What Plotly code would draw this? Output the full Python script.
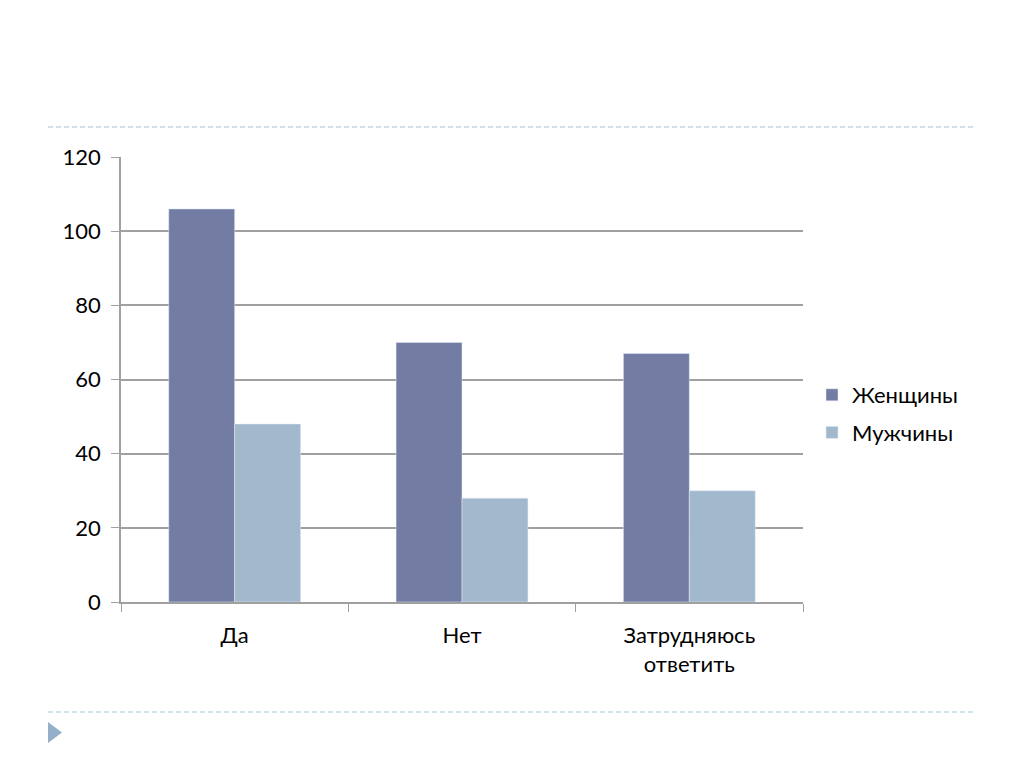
import plotly.graph_objects as go

categories = ["Да", "Нет", "Затрудняюсь<br>ответить"]
women = [106, 70, 67]
men = [48, 28, 30]
series_names = ["Женщины", "Мужчины"]

OFF = 8  # page body margin
W, H = 1024 - OFF, 767 - OFF
L, R, T, B = 121 - OFF, 803 - OFF, 157 - OFF, 602 - OFF

def px(x):
    return (x - OFF - L) / (R - L)

def py(y):
    return (B - (y - OFF)) / (B - T)

fig = go.Figure()
fig.add_trace(go.Bar(x=categories, y=women, name=series_names[0], marker_color="#737ca3",
                     legendgroup="a"))
fig.add_trace(go.Bar(x=categories, y=men, name=series_names[1], marker_color="#a2b8cd",
                     legendgroup="b"))

font = "Lato, 'Open Sans', sans-serif"
fig.update_layout(
    width=W, height=H,
    margin=dict(l=L, r=W - R, t=T, b=H - B, pad=0),
    paper_bgcolor="white", plot_bgcolor="white",
    barmode="group", bargap=0.42, bargroupgap=0,
    font=dict(family=font, size=22, color="black"),
    showlegend=True,
    legend=dict(x=px(812), y=py(414), xanchor="left", yanchor="middle",
                font=dict(size=22), itemwidth=30, tracegroupgap=6),
    xaxis=dict(showline=True, linecolor="#a0a0a0", linewidth=1.5,
               ticks="outside", tickson="boundaries", ticklen=8, tickcolor="#a0a0a0",
               showgrid=False, tickfont=dict(size=22), ticklabelstandoff=13),
    yaxis=dict(range=[0, 120], dtick=20, showline=True, linecolor="#a0a0a0", linewidth=1.5,
               ticks="outside", ticklen=8, tickcolor="#a0a0a0",
               showgrid=True, gridcolor="#a0a0a0", gridwidth=1.5,
               zeroline=False, tickfont=dict(size=22), ticklabelstandoff=6),
)

shapes = []
for yy in (127, 712):
    shapes.append(dict(type="line", xref="paper", yref="paper",
                       x0=px(48), x1=px(975), y0=py(yy), y1=py(yy),
                       line=dict(color="#a8c4d8", width=1.2, dash="5px,3px")))
shapes.append(dict(type="path", xref="paper", yref="paper",
                   path=f"M {px(48)},{py(722)} L {px(48)},{py(743)} L {px(62)},{py(732.5)} Z",
                   fillcolor="#94b0c8", line=dict(width=0)))
fig.update_layout(shapes=shapes)

fig.write_html("out.html")
